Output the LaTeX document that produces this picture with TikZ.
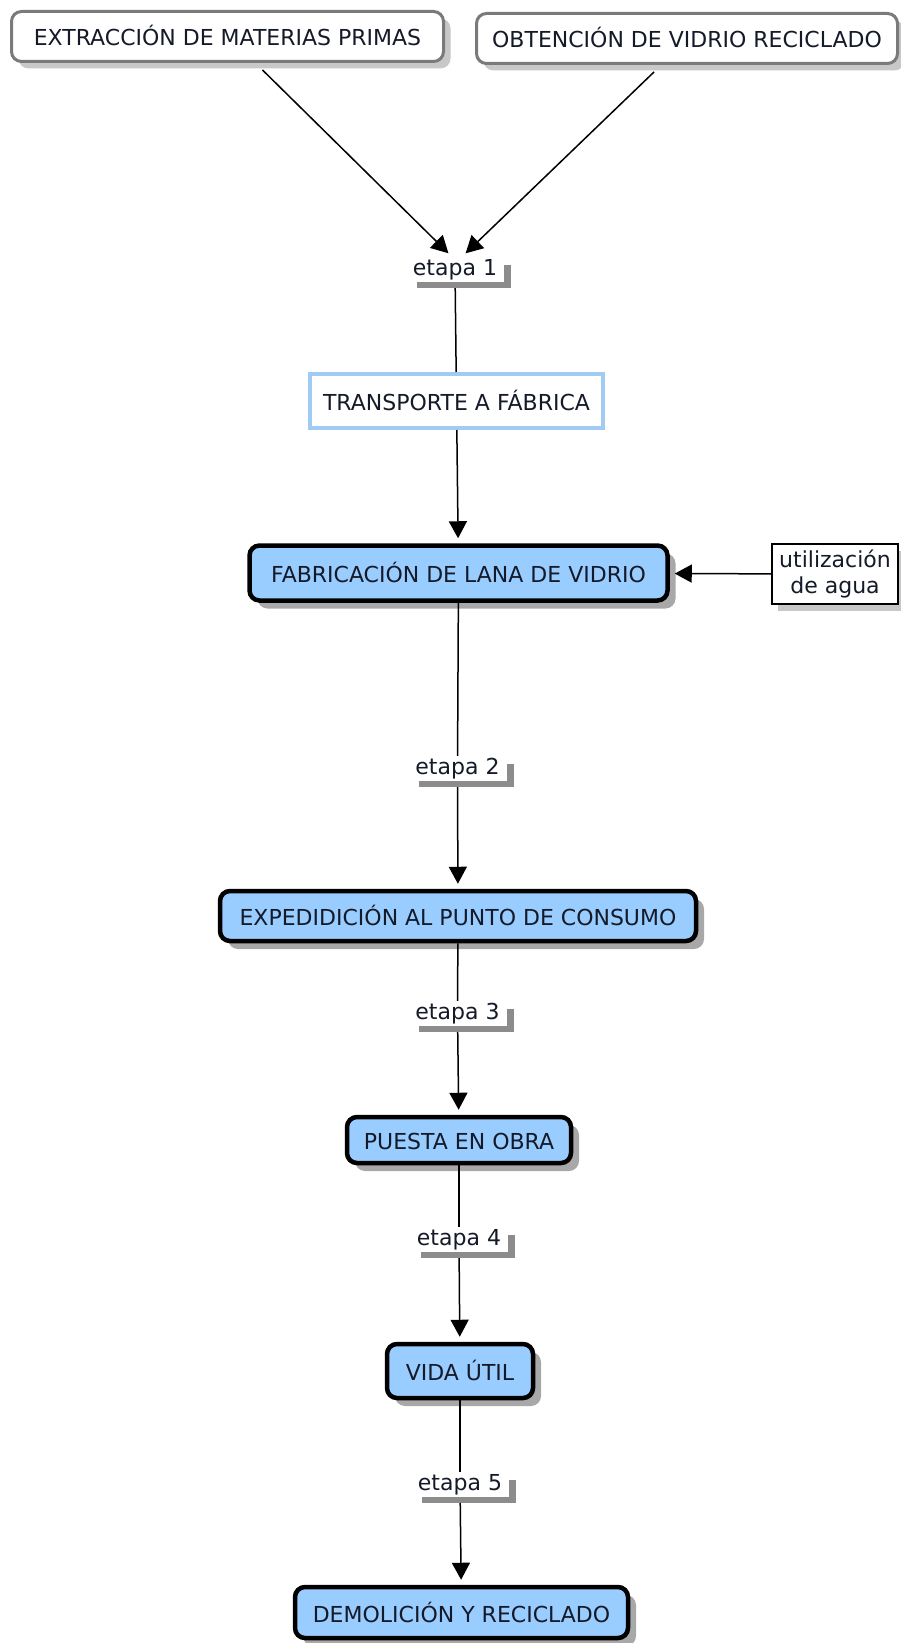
\documentclass[tikz,border=0pt]{standalone}
\usepackage{fontspec}
\setmainfont{DejaVu Sans}
\usetikzlibrary{arrows.meta,shadows,calc}
\definecolor{boxblue}{HTML}{99CCFF}
\definecolor{transblue}{HTML}{A0CCF4}
\definecolor{bordergray}{HTML}{7A7A7A}
\definecolor{shadowgray}{HTML}{A8A8A8}
\definecolor{lightshadow}{HTML}{C8C8C8}
\definecolor{brgray}{HTML}{8C8C8C}
\definecolor{txt}{HTML}{141A28}
\begin{document}
\begin{tikzpicture}[x=1pt,y=-1pt,
  every node/.style={font=\fontsize{22}{26}\selectfont, text=txt},
  topbox/.style={draw=bordergray, line width=3pt, fill=white, rounded corners=10pt, inner sep=0pt,
    text height=19pt, text depth=0pt,
    drop shadow={shadow xshift=7pt, shadow yshift=-7pt, fill=lightshadow, opacity=1}},
  mainbox/.style={draw=black, line width=4.5pt, fill=boxblue, rounded corners=10pt, inner sep=0pt,
    text height=19pt, text depth=0pt,
    drop shadow={shadow xshift=8pt, shadow yshift=-8pt, fill=shadowgray, opacity=1}},
  transbox/.style={draw=transblue, line width=4pt, fill=white, inner sep=0pt,
    text height=19pt, text depth=0pt},
  waterbox/.style={draw=black, line width=1.5pt, fill=white, inner sep=0pt, align=center,
    drop shadow={shadow xshift=6pt, shadow yshift=-7pt, fill=lightshadow, opacity=1}},
  etapa/.style={inner xsep=3pt, inner ysep=2pt, text height=16pt, text depth=5pt, anchor=base},
  conn/.style={line width=1.5pt, draw=black},
  arr/.style={conn, -{Triangle[width=18pt,length=17pt]}, shorten >=5pt},
]
\fill[white] (0,0) rectangle (901,1643);
\useasboundingbox (0,0) rectangle (901,1643);

\node[topbox, minimum width=432pt, minimum height=50pt] (ext) at (227.5,36.5) {EXTRACCIÓN DE MATERIAS PRIMAS};
\node[topbox, minimum width=421pt, minimum height=50pt] (obt) at (687,38.5) {OBTENCIÓN DE VIDRIO RECICLADO};
\node[etapa] (e1) at (455,275) {etapa 1};
\node[transbox, minimum width=293pt, minimum height=54pt] (trans) at (456.5,401) {TRANSPORTE A FÁBRICA};
\node[mainbox, minimum width=418pt, minimum height=55pt] (fab) at (458.5,573) {FABRICACIÓN DE LANA DE VIDRIO};
\node[waterbox, minimum width=126pt, minimum height=60pt] (agua) at (835,574) {utilización\\de agua};
\node[etapa] (e2) at (457.5,774) {etapa 2};
\node[mainbox, minimum width=476pt, minimum height=50pt] (exp) at (458,916) {EXPEDIDICIÓN AL PUNTO DE CONSUMO};
\node[etapa] (e3) at (457.5,1019) {etapa 3};
\node[mainbox, minimum width=224pt, minimum height=46pt] (pue) at (459,1140) {PUESTA EN OBRA};
\node[etapa] (e4) at (459,1245) {etapa 4};
\node[mainbox, minimum width=146pt, minimum height=54pt] (vida) at (460,1371) {VIDA ÚTIL};
\node[etapa] (e5) at (460,1490) {etapa 5};
\node[mainbox, minimum width=333pt, minimum height=51pt] (dem) at (461.5,1612.5) {DEMOLICIÓN Y RECICLADO};

\draw[arr] ($(ext.south)+(35,7)$) -- ($(e1.north)+(-3,0)$);
\draw[arr] ($(obt.south)+(-33,7)$) -- ($(e1.north)+(7,0)$);
\draw[conn] (e1) -- (trans);
\draw[arr] (trans) -- (fab);
\draw[arr] (agua) -- (fab);
\draw[conn] (fab) -- (e2);
\draw[arr] (e2) -- (exp);
\draw[conn] (exp) -- (e3);
\draw[arr] (e3) -- (pue);
\draw[conn] (pue) -- (e4);
\draw[arr] (e4) -- (vida);
\draw[conn] (vida) -- (e5);
\draw[arr] (e5) -- (dem);

\foreach \n in {e1,e2,e3,e4,e5} {
  \fill[brgray] ($(\n.south west)+(7,0)$) rectangle ($(\n.south east)+(11,6)$);
  \fill[brgray] ($(\n.north east)+(4,8)$) rectangle ($(\n.south east)+(11,6)$);
}
\end{tikzpicture}
\end{document}
